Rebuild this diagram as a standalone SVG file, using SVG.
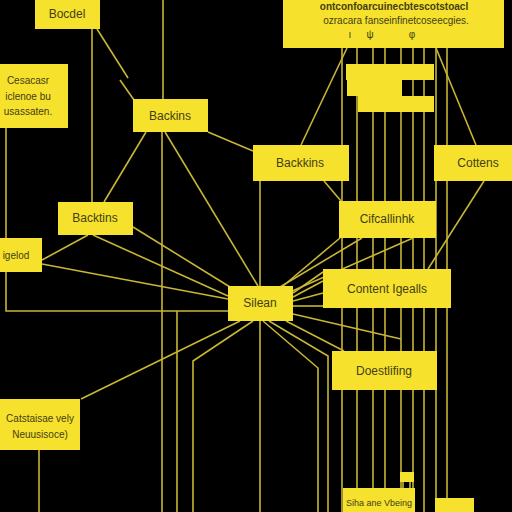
<svg xmlns="http://www.w3.org/2000/svg" width="512" height="512" viewBox="0 0 512 512">
<style>
.n{fill:#f6e12c;}
.t{font-family:"Liberation Sans",Arial,sans-serif;font-size:12px;fill:#443e14;text-anchor:middle;dominant-baseline:central;}
.s{font-size:10px;}
.xs{font-size:9px;}
#connectors line,#connectors polyline{stroke:#c8b634;stroke-width:1.6;fill:none;}
</style>
<rect width="512" height="512" fill="#000"/>
<g id="connectors">
<line x1="92" y1="29" x2="92" y2="202"/>
<line x1="163" y1="0" x2="163" y2="99"/>
<line x1="162" y1="132" x2="162" y2="512"/>
<polyline points="6,128 6,311 228,311"/>
<line x1="177" y1="311" x2="177" y2="512"/>
<line x1="260" y1="181" x2="260" y2="512"/>
<line x1="39" y1="450" x2="39" y2="512"/>
<line x1="342" y1="48" x2="342" y2="512"/>
<line x1="357" y1="48" x2="357" y2="512"/>
<line x1="373" y1="48" x2="373" y2="512"/>
<line x1="385" y1="48" x2="385" y2="512"/>
<line x1="401" y1="48" x2="401" y2="512"/>
<line x1="413" y1="48" x2="413" y2="512"/>
<line x1="424" y1="48" x2="424" y2="512"/>
<line x1="436" y1="48" x2="436" y2="512"/>
<line x1="447" y1="48" x2="447" y2="512"/>
<line x1="97" y1="29" x2="128" y2="78"/>
<line x1="120" y1="80" x2="134" y2="100"/>
<line x1="146" y1="132" x2="104" y2="202"/>
<line x1="165" y1="132" x2="258" y2="286"/>
<line x1="208" y1="132" x2="253" y2="151"/>
<line x1="347" y1="48" x2="301" y2="145"/>
<line x1="436" y1="48" x2="476" y2="145"/>
<line x1="484" y1="181" x2="428" y2="269"/>
<line x1="324" y1="181" x2="341" y2="201"/>
<line x1="88" y1="235" x2="42" y2="260"/>
<line x1="93" y1="235" x2="228" y2="296"/>
<line x1="133" y1="227" x2="230" y2="287"/>
<line x1="42" y1="264" x2="228" y2="299"/>
<line x1="283" y1="286" x2="340" y2="238"/>
<line x1="280" y1="287" x2="362" y2="238"/>
<line x1="290" y1="292" x2="413" y2="238"/>
<line x1="293" y1="293" x2="323" y2="272"/>
<line x1="293" y1="297" x2="323" y2="281"/>
<line x1="293" y1="301" x2="323" y2="293"/>
<line x1="293" y1="306" x2="323" y2="306"/>
<line x1="293" y1="314" x2="401" y2="339"/>
<line x1="286" y1="321" x2="344" y2="351"/>
<polyline points="269,321 328,356 328,512"/>
<polyline points="263,321 318,368 318,512"/>
<line x1="240" y1="321" x2="81" y2="399"/>
<polyline points="253,321 193,361 193,512"/>
<line x1="403" y1="482" x2="403" y2="488"/>
<line x1="410" y1="482" x2="410" y2="488"/>
</g>
<g id="n-bocdel"><rect class="n" x="35" y="0" width="65" height="29"/><text class="t" x="67" y="14">Bocdel</text></g>
<g id="n-left3"><rect class="n" x="0" y="64" width="68" height="64"/>
<text class="t s" x="28" y="80">Cesacasr</text><text class="t s" x="28" y="96">iclenoe bu</text><text class="t s" x="28" y="111">usassaten.</text></g>
<g id="n-backins"><rect class="n" x="133" y="99" width="75" height="33"/><text class="t" x="170" y="116">Backins</text></g>
<g id="n-top"><rect class="n" x="283" y="0" width="221" height="48"/>
<text class="t s" x="394" y="6" font-weight="bold">ontconfoarcuinecbtescotstoacl</text>
<text class="t s" x="396" y="20">ozracara fanseinfinetcoseecgies.</text>
<text class="t s" x="350" y="34">ı</text><text class="t s" x="370" y="34">ψ</text><text class="t s" x="412" y="34">φ</text></g>
<g id="n-bars"><rect class="n" x="346" y="64" width="88" height="16"/><rect class="n" x="347" y="80" width="55" height="16"/><rect class="n" x="358" y="96" width="76" height="16"/></g>
<g id="n-backkins"><rect class="n" x="253" y="145" width="96" height="36"/><text class="t" x="300" y="163">Backkins</text></g>
<g id="n-cottens"><rect class="n" x="434" y="145" width="78" height="36"/><text class="t" x="478" y="163">Cottens</text></g>
<g id="n-backtins"><rect class="n" x="58" y="202" width="75" height="33"/><text class="t" x="95" y="218">Backtins</text></g>
<g id="n-igelod"><rect class="n" x="0" y="238" width="42" height="34"/><text class="t s" x="16" y="255">igelod</text></g>
<g id="n-cifcall"><rect class="n" x="339" y="201" width="97" height="37"/><text class="t" x="387" y="219">Cifcallinhk</text></g>
<g id="n-content"><rect class="n" x="323" y="269" width="128" height="39"/><text class="t" x="387" y="289">Content Igealls</text></g>
<g id="n-silean"><rect class="n" x="228" y="286" width="65" height="35"/><text class="t" x="260" y="303">Silean</text></g>
<g id="n-doest"><rect class="n" x="332" y="351" width="105" height="39"/><text class="t" x="384" y="371">Doestlifing</text></g>
<g id="n-catst"><rect class="n" x="0" y="399" width="80" height="51"/>
<text class="t s" x="40" y="418">Catstaisae vely</text><text class="t s" x="40" y="434">Neuusisoce)</text></g>
<g id="n-small"><rect class="n" x="400" y="472" width="14" height="10"/></g>
<g id="n-siha"><rect class="n" x="343" y="488" width="72" height="24"/><text class="t xs" x="379" y="503">Siha ane Vbeing</text></g>
<g id="n-br"><rect class="n" x="435" y="498" width="39" height="14"/></g>
</svg>
